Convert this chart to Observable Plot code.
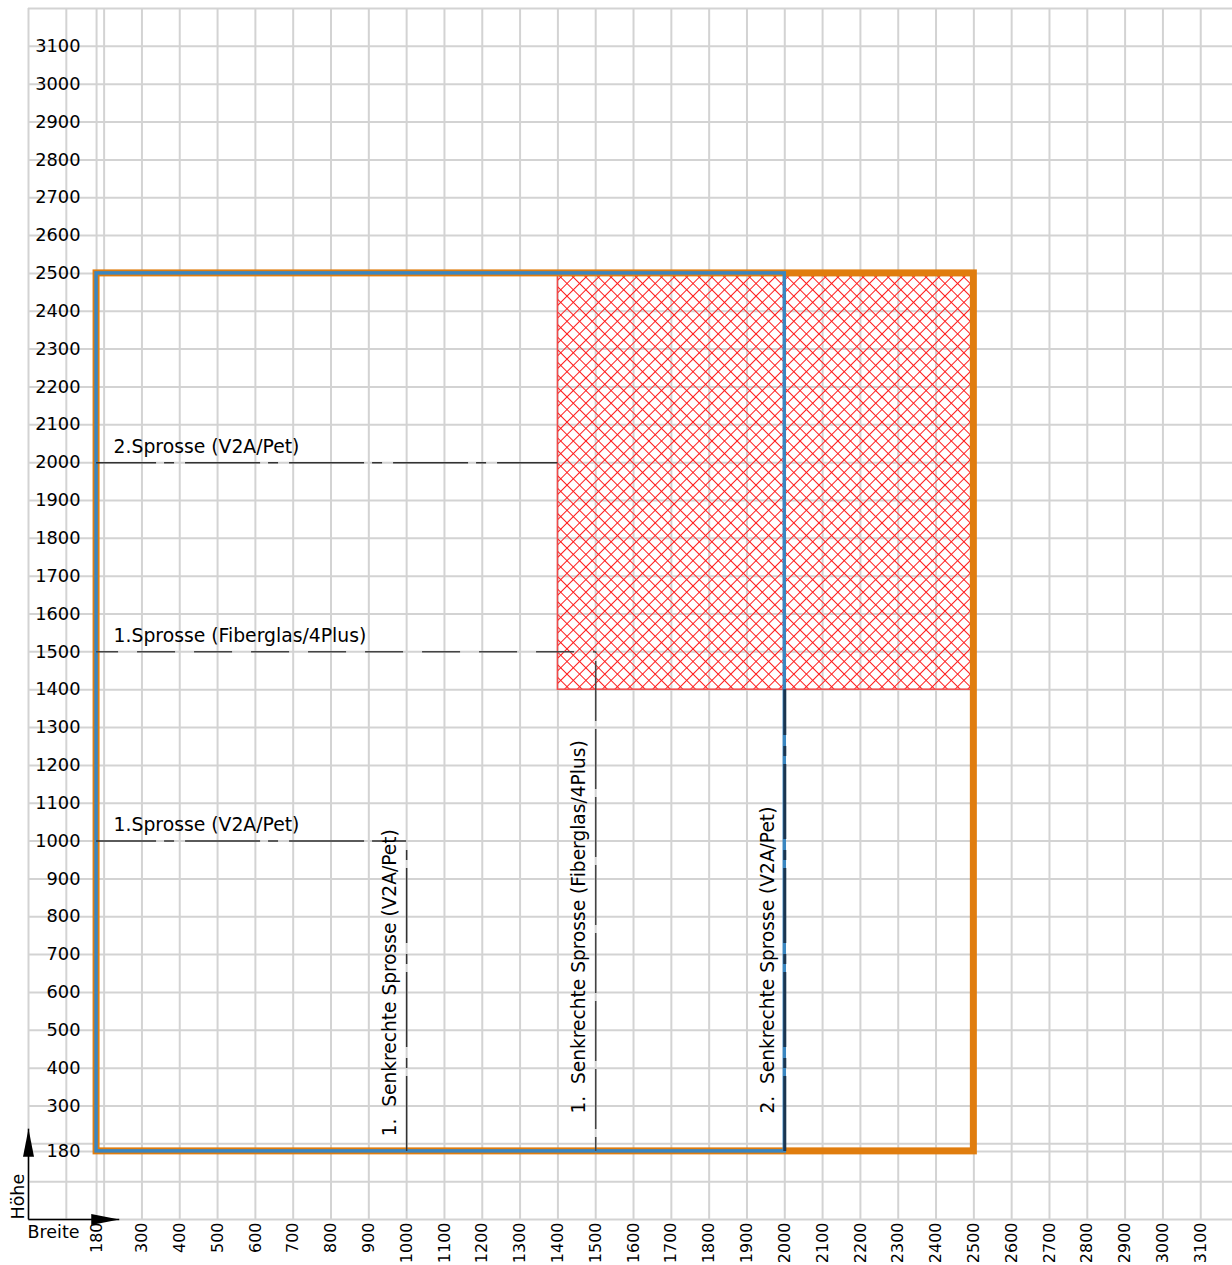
<!DOCTYPE html>
<html><head><meta charset="utf-8">
<script src="https://cdn.jsdelivr.net/npm/d3@7"></script>
<script src="https://cdn.jsdelivr.net/npm/@observablehq/plot@0.6"></script>
<style>
html,body{margin:0;padding:0;background:#fff;overflow:hidden}
svg{display:block}
</style></head><body><div id="chart"></div>
<script>
// ---- data ----
const gridValues = [0,100,180,200,300,400,500,600,700,800,900,1000,1100,1200,1300,1400,1500,1600,1700,1800,1900,2000,2100,2200,2300,2400,2500,2600,2700,2800,2900,3000,3100,3200];
const xTickValues = [180,300,400,500,600,700,800,900,1000,1100,1200,1300,1400,1500,1600,1700,1800,1900,2000,2100,2200,2300,2400,2500,2600,2700,2800,2900,3000,3100];
const yTickValues = [180,300,400,500,600,700,800,900,1000,1100,1200,1300,1400,1500,1600,1700,1800,1900,2000,2100,2200,2300,2400,2500,2600,2700,2800,2900,3000,3100];

const minSize = 180;
const maxFiberglas = [2500, 2500];   // Breite, Höhe (orange)
const maxV2A = [2000, 2500];         // Breite, Höhe (blue)
const hatchX = [1400, 2500];
const hatchY = [1400, 2500];

const sprossenLabels = ["2.Sprosse (V2A/Pet)", "1.Sprosse (Fiberglas/4Plus)", "1.Sprosse (V2A/Pet)"];
const sprossenHoehe = [2000, 1500, 1000];
const sprossenEnde = [1400, 1500, 1000];
const sprossenTyp = ["V2A", "Fiberglas", "V2A"];

const senkLabels = ["1.\u00A0 Senkrechte Sprosse (V2A/Pet)", "1.\u00A0 Senkrechte Sprosse (Fiberglas/4Plus)", "2.\u00A0 Senkrechte Sprosse (V2A/Pet)"];
const senkBreite = [1000, 1500, 2000];
const senkEnde = [1000, 1500, 1400];
const senkTyp = ["V2A", "Fiberglas", "V2A2"];
const senkLabelStart = [220, 280, 280];

const axisLabels = ["Breite", "Höhe"];
const arrowLength = 240;

// ---- tables ----
const sprossen = sprossenLabels.map((label, i) => ({label, y: sprossenHoehe[i], x1: minSize, x2: sprossenEnde[i], typ: sprossenTyp[i]}));
const senk = senkLabels.map((label, i) => ({label, x: senkBreite[i], y1: minSize, y2: senkEnde[i], typ: senkTyp[i], ly: senkLabelStart[i]}));
const outer = [{x1: minSize, x2: maxFiberglas[0], y1: minSize, y2: maxFiberglas[1]}];
const inner = [{x1: minSize, x2: maxV2A[0], y1: minSize, y2: maxV2A[1]}];
const hatch = [{x1: hatchX[0], x2: hatchX[1], y1: hatchY[0], y2: hatchY[1]}];
const axes = [{x1: 0, y1: 0, x2: arrowLength, y2: 0, rot: 90}, {x1: 0, y1: 0, x2: 0, y2: arrowLength, rot: 0}];

const font = "'DejaVu Sans', Verdana, sans-serif";
const arrowHead = {draw(ctx) { ctx.moveTo(0, 0); ctx.lineTo(5.5, 28); ctx.lineTo(-5.5, 28); ctx.closePath(); }};
const V2A_DASH = "75,8,10,11";
const FIB_DASH = "38,19";
const FIB_DASH_V = "60,8";

const chart = Plot.plot({
  width: 1232, height: 1265,
  marginLeft: 28, marginRight: 0, marginTop: 8, marginBottom: 46,
  x: {domain: [0, 3184], axis: null},
  y: {domain: [0, 3200], axis: null},
  style: {fontFamily: font, background: "white", color: "#000"},
  marks: [
    Plot.ruleX(gridValues, {stroke: "#d3d3d3", strokeWidth: 2, strokeOpacity: 1}),
    Plot.ruleY(gridValues, {stroke: "#d3d3d3", strokeWidth: 2, strokeOpacity: 1}),
    Plot.rect(hatch, {x1: "x1", x2: "x2", y1: "y1", y2: "y2", fill: "url(#hatch)", stroke: "#f04a4a", strokeWidth: 1.5}),
    Plot.rect(outer, {x1: "x1", x2: "x2", y1: "y1", y2: "y2", fill: "none", stroke: "#e07d0e", strokeWidth: 7}),
    Plot.rect(inner, {x1: "x1", x2: "x2", y1: "y1", y2: "y2", fill: "none", stroke: "#3a86c0", strokeWidth: 3.5}),
    Plot.ruleY(sprossen.filter(d => d.typ === "V2A"), {y: "y", x1: "x1", x2: "x2", stroke: "#333", strokeWidth: 1.5, strokeDasharray: V2A_DASH, strokeDashoffset: 15}),
    Plot.ruleY(sprossen.filter(d => d.typ === "Fiberglas"), {y: "y", x1: "x1", x2: "x2", stroke: "#444", strokeWidth: 1.5, strokeDasharray: FIB_DASH, strokeDashoffset: 16}),
    Plot.ruleX(senk.filter(d => d.typ === "V2A"), {x: "x", y1: "y1", y2: "y2", stroke: "#333", strokeWidth: 1.5, strokeDasharray: V2A_DASH}),
    Plot.ruleX(senk.filter(d => d.typ === "Fiberglas"), {x: "x", y1: "y1", y2: "y2", stroke: "#444", strokeWidth: 1.5, strokeDasharray: FIB_DASH_V, strokeDashoffset: -22}),
    Plot.ruleX(senk.filter(d => d.typ === "V2A2"), {x: "x", y1: "y1", y2: "y2", stroke: "#1b3550", strokeWidth: 3, strokeDasharray: V2A_DASH}),
    // labels
    Plot.text(sprossen, {x: "x1", y: "y", text: "label", textAnchor: "start", dx: 17, dy: -16, fontSize: 18.8, fill: "#000", ariaLabel: "hlabels"}),
    Plot.text(senk, {x: "x", y: "ly", text: "label", textAnchor: "start", rotate: -90, dx: -17, fontSize: 18.6, fill: "#000", ariaLabel: "vlabels"}),
    // tick labels
    Plot.text(yTickValues, {x: 0, y: d => d, text: d => String(d), textAnchor: "end", dx: 52, fontSize: 17.8, fill: "#000", ariaLabel: "yticks"}),
    Plot.text(xTickValues, {x: d => d, y: 0, text: d => String(d), textAnchor: "end", rotate: -90, dy: 3, fontSize: 16, fill: "#000", ariaLabel: "xticks"}),
    // axes with arrows
    Plot.link(axes, {x1: "x1", y1: "y1", x2: "x2", y2: "y2", stroke: "#000", strokeWidth: 1.5}),
    Plot.dot(axes, {x: "x2", y: "y2", symbol: arrowHead, rotate: "rot", fill: "#000", stroke: "none", r: 5}),
    Plot.text([axisLabels[0]], {x: 0, y: 0, text: d => d, textAnchor: "start", dy: 13, dx: -1, fontSize: 17.5, fill: "#000"}),
    Plot.text([axisLabels[1]], {x: 0, y: 0, text: d => d, textAnchor: "start", rotate: -90, dx: -10, fontSize: 17.5, fill: "#000"})
  ]
});

document.getElementById("chart").appendChild(chart);

// hatch pattern
const svg = d3.select(chart);
const defs = svg.insert("defs", ":first-child");
const s = 12.6 / Math.SQRT2;
const pat = defs.append("pattern").attr("id", "hatch").attr("patternUnits", "userSpaceOnUse")
  .attr("width", s).attr("height", s).attr("patternTransform", "rotate(45)");
pat.append("path").attr("d", `M${s/2},0V${s}M0,${s/2}H${s}`).attr("stroke", "#ff1a1a").attr("stroke-width", 1).attr("fill", "none");

// white label backgrounds
function addBoxes(label, pad) {
  const g = chart.querySelector(`g[aria-label="${label}"]`);
  if (!g) return;
  const ns = "http://www.w3.org/2000/svg";
  const layer = document.createElementNS(ns, "g");
  g.parentNode.insertBefore(layer, g);
  const base = chart.getBoundingClientRect();
  g.querySelectorAll("text").forEach(t => {
    const r = t.getBoundingClientRect();
    const rect = document.createElementNS(ns, "rect");
    rect.setAttribute("x", r.left - base.left - pad.l);
    rect.setAttribute("y", r.top - base.top - pad.t);
    rect.setAttribute("width", r.width + pad.l + pad.r);
    rect.setAttribute("height", r.height + pad.t + pad.b);
    rect.setAttribute("fill", "white");
    layer.appendChild(rect);
  });
}
addBoxes("yticks", {l: 4, r: 6, t: 4, b: 4});
addBoxes("hlabels", {l: 13, r: 70, t: 10, b: 4});
addBoxes("vlabels", {l: 4, r: 4, t: 30, b: 5});
</script></body></html>
